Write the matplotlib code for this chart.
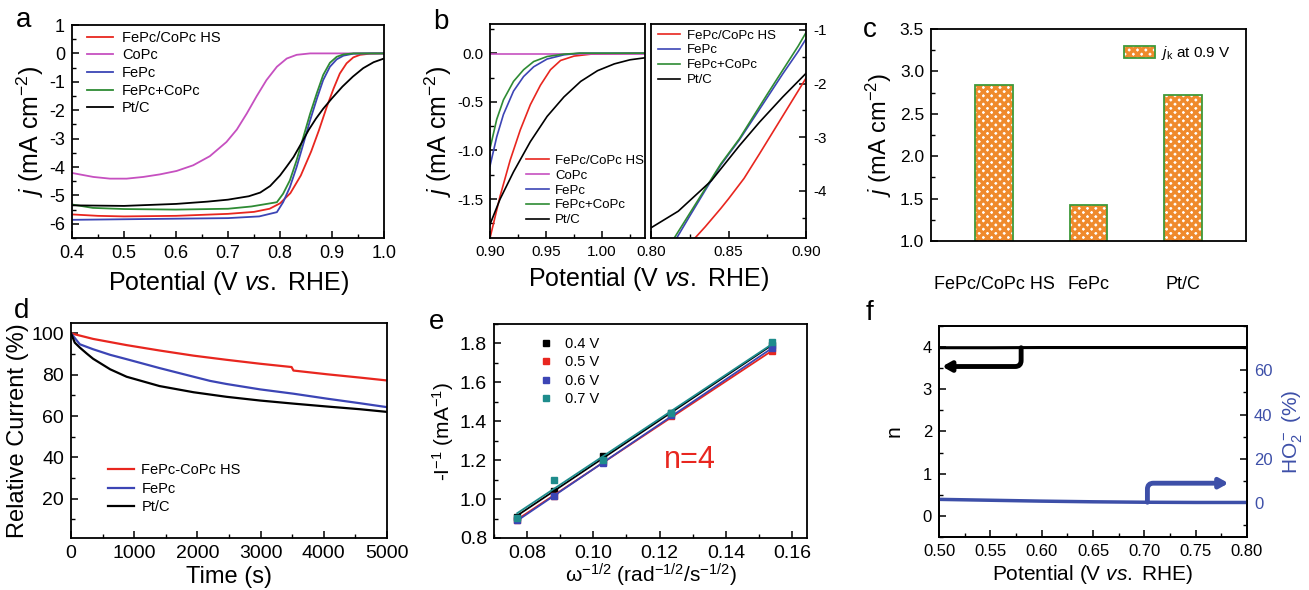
import numpy as np
import matplotlib
matplotlib.use("Agg")
import matplotlib.pyplot as plt
from matplotlib.ticker import MultipleLocator, FormatStrFormatter
from matplotlib.patches import Patch

plt.rcParams['font.family'] = ['Liberation Sans', 'DejaVu Sans']
plt.rcParams['mathtext.fontset'] = 'custom'
plt.rcParams['mathtext.rm'] = 'Liberation Sans'
plt.rcParams['mathtext.it'] = 'Liberation Sans:italic'
plt.rcParams['mathtext.bf'] = 'Liberation Sans:bold'
plt.rcParams['axes.unicode_minus'] = False
plt.rcParams['axes.linewidth'] = 1.3
plt.rcParams['hatch.linewidth'] = 2.4

RED = '#e8261f'
MAG = '#c650c0'
BLUE = '#3c45b5'
GREEN = '#2e8b34'
TEAL = '#1e8c8c'
ORANGE = '#ef8a2c'
BAR_EDGE = '#3f9a3a'
AX_BLUE = '#3d4fa8'

# ---- panel a: LSV curves
a_hs_v = [0.40, 0.45, 0.50, 0.60, 0.70, 0.75, 0.78, 0.80, 0.82, 0.84, 0.86, 0.875, 0.89, 0.903, 0.915, 0.928, 0.941, 0.954, 0.973, 1.00]
a_hs_j = [-5.67, -5.72, -5.74, -5.72, -5.65, -5.58, -5.47, -5.28, -4.92, -4.30, -3.45, -2.70, -1.88, -1.24, -0.71, -0.35, -0.14, -0.05, -0.01, 0.0]
a_copc_v = [0.40, 0.441, 0.473, 0.505, 0.537, 0.569, 0.601, 0.633, 0.665, 0.697, 0.717, 0.736, 0.755, 0.774, 0.794, 0.813, 0.832, 0.858, 1.00]
a_copc_j = [-4.21, -4.35, -4.41, -4.41, -4.35, -4.26, -4.14, -3.94, -3.62, -3.12, -2.68, -2.12, -1.51, -0.94, -0.47, -0.18, -0.05, 0.0, 0.0]
a_fepc_v = [0.40, 0.50, 0.60, 0.70, 0.76, 0.794, 0.806, 0.819, 0.832, 0.845, 0.858, 0.871, 0.883, 0.896, 0.909, 0.922, 0.941, 0.97, 1.00]
a_fepc_j = [-5.86, -5.84, -5.82, -5.80, -5.74, -5.59, -5.24, -4.71, -4.00, -3.18, -2.35, -1.59, -0.94, -0.47, -0.21, -0.08, -0.01, 0.0, 0.0]
a_mix_v = [0.40, 0.44, 0.50, 0.60, 0.70, 0.745, 0.794, 0.806, 0.819, 0.832, 0.845, 0.858, 0.871, 0.883, 0.896, 0.909, 0.922, 0.941, 1.00]
a_mix_j = [-5.32, -5.44, -5.48, -5.50, -5.47, -5.39, -5.24, -4.94, -4.47, -3.76, -2.94, -2.12, -1.39, -0.76, -0.33, -0.12, -0.035, 0.0, 0.0]
a_ptc_v = [0.40, 0.50, 0.60, 0.66, 0.70, 0.74, 0.762, 0.781, 0.80, 0.813, 0.826, 0.84, 0.855, 0.869, 0.883, 0.90, 0.92, 0.94, 0.96, 0.98, 1.00]
a_ptc_j = [-5.35, -5.37, -5.30, -5.22, -5.15, -5.03, -4.90, -4.67, -4.30, -3.98, -3.65, -3.20, -2.70, -2.30, -1.95, -1.58, -1.17, -0.82, -0.52, -0.31, -0.18]

# ---- panel b (left, zoom near onset)
bl_hs_v = [0.90, 0.909, 0.918, 0.927, 0.936, 0.945, 0.954, 0.963, 0.975, 0.99, 1.04]
bl_hs_j = [-1.90, -1.47, -1.10, -0.79, -0.53, -0.33, -0.17, -0.075, -0.03, -0.01, 0.0]
bl_copc_v = [0.90, 1.04]
bl_copc_j = [-0.005, -0.005]
bl_fepc_v = [0.90, 0.906, 0.912, 0.921, 0.930, 0.939, 0.951, 0.966, 0.98, 1.04]
bl_fepc_j = [-1.16, -0.86, -0.63, -0.39, -0.24, -0.14, -0.06, -0.017, 0.0, 0.0]
bl_mix_v = [0.90, 0.906, 0.912, 0.921, 0.930, 0.939, 0.951, 0.966, 0.98, 1.04]
bl_mix_j = [-0.98, -0.68, -0.48, -0.29, -0.17, -0.086, -0.034, -0.01, 0.0, 0.0]
bl_ptc_v = [0.90, 0.909, 0.921, 0.936, 0.951, 0.966, 0.981, 0.996, 1.011, 1.025, 1.04]
bl_ptc_j = [-1.76, -1.50, -1.22, -0.91, -0.65, -0.45, -0.29, -0.18, -0.11, -0.068, -0.045]

# ---- panel b (right, zoom near half-wave)
br_hs_v = [0.8284, 0.835, 0.84, 0.845, 0.85, 0.855, 0.86, 0.87, 0.88, 0.89, 0.90]
br_hs_j = [-4.88, -4.67, -4.50, -4.33, -4.15, -3.96, -3.77, -3.31, -2.84, -2.37, -1.90]
br_fepc_v = [0.8166, 0.825, 0.835, 0.845, 0.857, 0.865, 0.875, 0.885, 0.895, 0.90]
br_fepc_j = [-4.88, -4.47, -3.99, -3.52, -3.05, -2.70, -2.26, -1.82, -1.40, -1.17]
br_mix_v = [0.815, 0.825, 0.835, 0.845, 0.857, 0.865, 0.875, 0.885, 0.895, 0.90]
br_mix_j = [-4.88, -4.42, -3.96, -3.50, -3.03, -2.66, -2.20, -1.75, -1.30, -1.05]
br_ptc_v = [0.80, 0.8176, 0.839, 0.857, 0.87, 0.885, 0.90]
br_ptc_j = [-4.69, -4.38, -3.81, -3.16, -2.72, -2.25, -1.81]

# ---- panel c: kinetic current
c_names = ['FePc/CoPc HS', 'FePc', 'Pt/C']
c_jk = [2.84, 1.42, 2.72]

# ---- panel d: chronoamperometry
d_hs_t = [0, 350, 880, 1400, 1940, 2460, 2990, 3490, 3520, 4050, 4570, 5000]
d_hs_i = [100, 97.3, 94.3, 91.7, 89.2, 87.2, 85.3, 83.7, 82.0, 80.2, 78.6, 77.2]
d_fepc_t = [0, 140, 350, 620, 880, 1400, 1940, 2200, 2460, 2990, 3520, 4050, 4570, 5000]
d_fepc_i = [100, 94.7, 92.3, 89.6, 87.5, 83.2, 79.0, 77.0, 75.5, 72.9, 70.8, 68.4, 66.2, 64.3]
d_ptc_t = [0, 60, 140, 250, 350, 620, 880, 1400, 1940, 2460, 2990, 3520, 4050, 4570, 5000]
d_ptc_i = [100, 95.5, 93.1, 90.2, 87.7, 82.6, 79.0, 74.5, 71.5, 69.3, 67.5, 66.0, 64.6, 63.3, 62.0]

# ---- panel e: K-L plots
e_w = [0.077, 0.088, 0.103, 0.1235, 0.154]
e_04 = [0.91, 1.04, 1.22, 1.445, 1.79]
e_05 = [0.895, 1.015, 1.19, 1.425, 1.76]
e_06 = [0.89, 1.015, 1.185, 1.43, 1.775]
e_07 = [0.905, 1.10, 1.20, 1.44, 1.805]

# ---- panel f: RRDE
f_v = [0.50, 0.55, 0.60, 0.65, 0.70, 0.75, 0.80]
f_n = [3.985, 3.985, 3.99, 3.99, 3.99, 3.99, 3.99]
f_ho2 = [1.7, 1.3, 0.9, 0.6, 0.4, 0.3, 0.3]

W, H = 1309, 590


def box(l, t, r, b):
    return [l / W, 1 - b / H, (r - l) / W, (b - t) / H]


def style(ax, size=12):
    ax.tick_params(which='both', direction='in', top=False, right=False, labelsize=size)
    ax.tick_params(which='major', length=5, width=1.1, pad=5)
    ax.tick_params(which='minor', length=3, width=1.0)


XLAB = 'Potential (V $vs.$ RHE)'
JLAB = '$j$ (mA cm$^{-2}$)'

fig = plt.figure(figsize=(W / 100, H / 100), dpi=100)

# ---------------- a
ax = fig.add_axes(box(72, 25, 384, 238))
ax.plot(a_hs_v, a_hs_j, color=RED, lw=1.3, label='FePc/CoPc HS')
ax.plot(a_copc_v, a_copc_j, color=MAG, lw=1.3, label='CoPc')
ax.plot(a_fepc_v, a_fepc_j, color=BLUE, lw=1.3, label='FePc')
ax.plot(a_mix_v, a_mix_j, color=GREEN, lw=1.3, label='FePc+CoPc')
ax.plot(a_ptc_v, a_ptc_j, color='black', lw=1.3, label='Pt/C')
ax.set_xlim(0.4, 1.0)
ax.set_ylim(-6.5, 1)
ax.xaxis.set_major_locator(MultipleLocator(0.1))
ax.xaxis.set_minor_locator(MultipleLocator(0.05))
ax.yaxis.set_major_locator(MultipleLocator(1))
ax.yaxis.set_minor_locator(MultipleLocator(0.5))
ax.xaxis.set_major_formatter(FormatStrFormatter('%.1f'))
style(ax, 13)
ax.set_xlabel(XLAB, fontsize=18, labelpad=5)
ax.set_ylabel(JLAB, fontsize=18, labelpad=2)
ax.legend(loc='upper left', bbox_to_anchor=(0.03, 1.0), frameon=False, fontsize=10.5,
          handlelength=1.8, labelspacing=0.25, borderaxespad=0.0, handletextpad=0.6)

# ---------------- b left
ax = fig.add_axes(box(490, 24, 645, 238))
ax.plot(bl_hs_v, bl_hs_j, color=RED, lw=1.2, label='FePc/CoPc HS')
ax.plot(bl_copc_v, bl_copc_j, color=MAG, lw=1.2, label='CoPc')
ax.plot(bl_fepc_v, bl_fepc_j, color=BLUE, lw=1.2, label='FePc')
ax.plot(bl_mix_v, bl_mix_j, color=GREEN, lw=1.2, label='FePc+CoPc')
ax.plot(bl_ptc_v, bl_ptc_j, color='black', lw=1.2, label='Pt/C')
ax.set_xlim(0.90, 1.0384)
ax.set_ylim(-1.9, 0.30)
ax.xaxis.set_major_locator(MultipleLocator(0.05))
ax.xaxis.set_minor_locator(MultipleLocator(0.025))
ax.yaxis.set_major_locator(MultipleLocator(0.5))
ax.yaxis.set_minor_locator(MultipleLocator(0.25))
ax.xaxis.set_major_formatter(FormatStrFormatter('%.2f'))
ax.yaxis.set_major_formatter(FormatStrFormatter('%.1f'))
style(ax, 11)
ax.set_ylabel(JLAB, fontsize=18, labelpad=2)
ax.legend(loc='lower left', bbox_to_anchor=(0.2, 0.03), frameon=False, fontsize=9.5,
          handlelength=1.7, labelspacing=0.2, borderaxespad=0.0, handletextpad=0.5)

# ---------------- b right
ax = fig.add_axes(box(651, 24, 806, 238))
ax.plot(br_hs_v, br_hs_j, color=RED, lw=1.2, label='FePc/CoPc HS')
ax.plot(br_fepc_v, br_fepc_j, color=BLUE, lw=1.2, label='FePc')
ax.plot(br_mix_v, br_mix_j, color=GREEN, lw=1.2, label='FePc+CoPc')
ax.plot(br_ptc_v, br_ptc_j, color='black', lw=1.2, label='Pt/C')
ax.set_xlim(0.80, 0.90)
ax.set_ylim(-4.88, -0.89)
ax.xaxis.set_major_locator(MultipleLocator(0.05))
ax.xaxis.set_minor_locator(MultipleLocator(0.025))
ax.yaxis.set_major_locator(MultipleLocator(1))
ax.yaxis.set_minor_locator(MultipleLocator(0.5))
ax.xaxis.set_major_formatter(FormatStrFormatter('%.2f'))
style(ax, 11)
ax.yaxis.tick_right()
ax.tick_params(which='both', direction='in', left=False, right=True)
ax.legend(loc='upper left', bbox_to_anchor=(0.01, 1.0), frameon=False, fontsize=9.5,
          handlelength=1.7, labelspacing=0.2, borderaxespad=0.0, handletextpad=0.5)
fig.text(648 / W, 1 - 279 / H, XLAB, fontsize=18, ha='center', va='center')

# ---------------- c
ax = fig.add_axes(box(931, 29, 1246, 241))
xc = np.arange(len(c_names))
ax.bar(xc, c_jk, width=0.4, bottom=0, color='white', edgecolor=ORANGE, hatch='xxxx', lw=0)
ax.bar(xc, c_jk, width=0.4, bottom=0, fill=False, edgecolor=BAR_EDGE, lw=1.3)
ax.set_xlim(-0.667, 2.667)
ax.set_ylim(1.0, 3.5)
ax.set_xticks(xc)
ax.set_xticklabels(c_names)
ax.yaxis.set_major_locator(MultipleLocator(0.5))
ax.yaxis.set_minor_locator(MultipleLocator(0.25))
style(ax, 12.5)
ax.tick_params(axis='x', which='both', length=0, pad=25, labelsize=13)
ax.set_ylabel(JLAB, fontsize=17, labelpad=4)
hp = Patch(facecolor='white', edgecolor=ORANGE, hatch='xxxx', lw=0)
ep = Patch(fill=False, edgecolor=BAR_EDGE, lw=1.3)
ax.legend([(hp, ep)], ['$j_{\\mathrm{k}}$ at 0.9 V'], loc='upper right', frameon=False,
          fontsize=11, handlelength=2.0, handleheight=0.8, borderaxespad=0.6,
          handletextpad=0.4)

# ---------------- d
ax = fig.add_axes(box(71, 323, 387, 538))
ax.plot(d_hs_t, d_hs_i, color=RED, lw=1.6, label='FePc-CoPc HS')
ax.plot(d_fepc_t, d_fepc_i, color=BLUE, lw=1.6, label='FePc')
ax.plot(d_ptc_t, d_ptc_i, color='black', lw=1.6, label='Pt/C')
ax.set_xlim(0, 5000)
ax.set_ylim(1, 105)
ax.set_yticks([20, 40, 60, 80, 100])
ax.xaxis.set_major_locator(MultipleLocator(1000))
ax.xaxis.set_minor_locator(MultipleLocator(500))
ax.yaxis.set_minor_locator(MultipleLocator(10))
style(ax, 14)
ax.set_xlabel('Time (s)', fontsize=17, labelpad=3)
ax.set_ylabel('Relative Current (%)', fontsize=17, labelpad=2)
ax.legend(loc='lower left', bbox_to_anchor=(0.098, 0.084), frameon=False, fontsize=10.5,
          handlelength=1.8, labelspacing=0.3, borderaxespad=0.0, handletextpad=0.5)

# ---------------- e
ax = fig.add_axes(box(494, 324, 807, 538))
for ys, col, lab in [(e_04, 'black', '0.4 V'), (e_05, RED, '0.5 V'),
                     (e_06, BLUE, '0.6 V'), (e_07, TEAL, '0.7 V')]:
    k, b = np.polyfit(e_w, ys, 1)
    xs = np.array([min(e_w), max(e_w)])
    ax.plot(xs, k * xs + b, color=col, lw=1.3)
    ax.plot(e_w, ys, 's', color=col, ms=5, label=lab)
ax.set_xlim(0.07, 0.1645)
ax.set_ylim(0.8, 1.9)
ax.xaxis.set_major_locator(MultipleLocator(0.02))
ax.xaxis.set_minor_locator(MultipleLocator(0.01))
ax.yaxis.set_major_locator(MultipleLocator(0.2))
ax.yaxis.set_minor_locator(MultipleLocator(0.1))
ax.xaxis.set_major_formatter(FormatStrFormatter('%.2f'))
ax.yaxis.set_major_formatter(FormatStrFormatter('%.1f'))
style(ax, 14)
ax.set_xlabel('ω$^{-1/2}$ (rad$^{-1/2}$/s$^{-1/2}$)', fontsize=15, labelpad=0)
ax.set_ylabel('-I$^{-1}$ (mA$^{-1}$)', fontsize=15, labelpad=3)
ax.legend(loc='upper left', bbox_to_anchor=(0.1, 1.0), frameon=False, fontsize=10.5,
          handlelength=1.0, labelspacing=0.3, handletextpad=0.8)
ax.text(0.129, 1.2, 'n=4', color=RED, fontsize=22, ha='center', va='center')

# ---------------- f
ax = fig.add_axes(box(939, 326, 1247, 537))
ax.plot(f_v, f_n, color='black', lw=2.2)
ax.set_xlim(0.50, 0.80)
ax.set_ylim(-0.5, 4.5)
ax.xaxis.set_major_locator(MultipleLocator(0.05))
ax.xaxis.set_minor_locator(MultipleLocator(0.025))
ax.yaxis.set_major_locator(MultipleLocator(1))
ax.yaxis.set_minor_locator(MultipleLocator(0.5))
ax.xaxis.set_major_formatter(FormatStrFormatter('%.2f'))
style(ax, 12)
ax.set_xlabel(XLAB, fontsize=15, labelpad=3)
ax.set_ylabel('n', fontsize=15, labelpad=14)
ax.annotate('', xy=(0.503, 3.54), xytext=(0.58, f_n[1]),
            arrowprops=dict(arrowstyle='-|>,head_length=0.5,head_width=0.28', color='black',
                            lw=3.5, shrinkA=0, shrinkB=0,
                            connectionstyle='angle,angleA=90,angleB=0,rad=6'))
ax2 = ax.twinx()
ax2.plot(f_v, f_ho2, color=AX_BLUE, lw=2.5)
ax2.set_ylim(-15.3, 80)
ax2.yaxis.set_minor_locator(MultipleLocator(10))
ax2.set_yticks([0, 20, 40, 60])
ax2.tick_params(which='both', direction='in', labelsize=12, labelcolor=AX_BLUE, pad=5)
ax2.tick_params(which='major', length=5, width=1.1)
ax2.tick_params(which='minor', length=3, width=1.0)
ax2.set_ylabel('HO$_2^-$ (%)', fontsize=15, color=AX_BLUE, labelpad=6)
ax2.annotate('', xy=(0.782, 9.0), xytext=(0.703, f_ho2[4]),
             arrowprops=dict(arrowstyle='-|>,head_length=0.5,head_width=0.28', color=AX_BLUE,
                             lw=3.5, shrinkA=0, shrinkB=0,
                             connectionstyle='angle,angleA=90,angleB=0,rad=6'))

# panel letters
for lab, x, y in [('a', 24, 20), ('b', 441, 22), ('c', 870, 30),
                  ('d', 22, 311), ('e', 437, 322), ('f', 870, 313)]:
    fig.text(x / W, 1 - y / H, lab, fontsize=20, ha='center', va='center')

fig.savefig('out.png', dpi=100)
